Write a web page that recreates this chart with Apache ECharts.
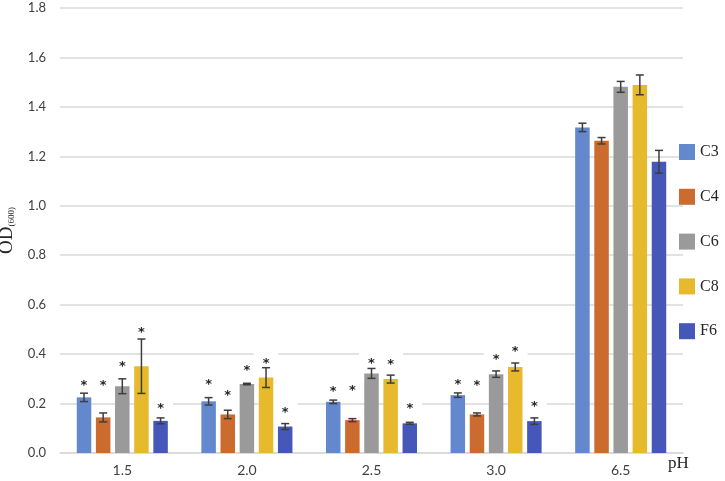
<!DOCTYPE html>
<html>
<head>
<meta charset="utf-8">
<script src="https://cdn.jsdelivr.net/npm/echarts@6/dist/echarts.min.js"></script>
<style>html,body{margin:0;padding:0;background:#fff}#chart{width:725px;height:481px}</style>
</head>
<body>
<div id="chart"></div>
<script>
// ---- data ----
var categories = ['1.5', '2.0', '2.5', '3.0', '6.5'];
var seriesNames = ['C3', 'C4', 'C6', 'C8', 'F6'];
var C3 = [0.225, 0.209, 0.207, 0.234, 1.317];
var C4 = [0.144, 0.156, 0.133, 0.156, 1.263];
var C6 = [0.270, 0.279, 0.322, 0.319, 1.481];
var C8 = [0.351, 0.305, 0.299, 0.348, 1.489];
var F6 = [0.130, 0.107, 0.120, 0.129, 1.178];
var C3err = [0.017, 0.015, 0.007, 0.009, 0.017];
var C4err = [0.018, 0.017, 0.006, 0.006, 0.013];
var C6err = [0.030, 0.003, 0.020, 0.013, 0.022];
var C8err = [0.110, 0.040, 0.016, 0.016, 0.040];
var F6err = [0.012, 0.012, 0.004, 0.013, 0.046];
// heights of significance asterisks (null = none)
var C3star = [0.284, 0.289, 0.262, 0.289, null];
var C4star = [0.284, 0.243, 0.265, 0.284, null];
var C6star = [0.362, 0.346, 0.374, 0.391, null];
var C8star = [0.499, 0.375, 0.370, 0.421, null];
var F6star = [0.192, 0.174, 0.191, 0.198, null];
var yTicks = [0, 0.2, 0.4, 0.6, 0.8, 1.0, 1.2, 1.4, 1.6, 1.8];

// ---- styles ----
var colors = ['#6388CE', '#CB6B2E', '#9A9A9A', '#E7B92C', '#4557B9'];
var BAR_W = 14.5, BAR_GAP = 0.32;
var pitch = BAR_W * (1 + BAR_GAP);

var values = [C3, C4, C6, C8, F6];
var errs = [C3err, C4err, C6err, C8err, F6err];
var stars = [C3star, C4star, C6star, C8star, F6star];

var series = [];
// asterisks (white box behind, hides gridlines; below bars)
values.forEach(function (v, i) {
  var off = (i - 2) * pitch;
  var d = [];
  stars[i].forEach(function (s, k) { if (s != null) d.push([k, s]); });
  series.push({
    type: 'custom', z: 1, silent: true,
    data: d, encode: { x: 0, y: 1 },
    renderItem: function (params, api) {
      var p = api.coord([api.value(0), api.value(1)]);
      return {
        type: 'text', x: p[0] + off, y: p[1] + 3,
        style: {
          text: '*', fill: '#262626', font: 'bold 13px "DejaVu Sans"',
          align: 'center', verticalAlign: 'middle',
          textAlign: 'center', textVerticalAlign: 'middle',
          backgroundColor: '#ffffff', padding: [6, 9, 4, 9]
        }
      };
    }
  });
});
// bars
values.forEach(function (v, i) {
  series.push({
    name: seriesNames[i], type: 'bar', z: 2, data: v,
    barWidth: BAR_W, barGap: (BAR_GAP * 100) + '%',
    itemStyle: { color: colors[i] }
  });
});
// error bars
values.forEach(function (v, i) {
  var off = (i - 2) * pitch;
  var d = v.map(function (val, k) { return [k, val, errs[i][k]]; });
  series.push({
    type: 'custom', z: 3, silent: true,
    data: d, encode: { x: 0, y: 1 },
    renderItem: function (params, api) {
      var c = api.value(0), m = api.value(1), e = api.value(2);
      var x = api.coord([c, m])[0] + off;
      var yt = api.coord([c, m + e])[1];
      var yb = api.coord([c, m - e])[1];
      var st = { stroke: '#3d3d3d', lineWidth: 1.5 };
      return {
        type: 'group',
        children: [
          { type: 'line', shape: { x1: x, y1: yt, x2: x, y2: yb }, style: st },
          { type: 'line', shape: { x1: x - 4, y1: yt, x2: x + 4, y2: yt }, style: st },
          { type: 'line', shape: { x1: x - 4, y1: yb, x2: x + 4, y2: yb }, style: st }
        ]
      };
    }
  });
});

var chart = echarts.init(document.getElementById('chart'), null, { renderer: 'canvas' });
chart.setOption({
  animation: false,
  backgroundColor: '#ffffff',
  grid: { left: 60, right: 42, top: 8, bottom: 28, containLabel: false, outerBoundsMode: 'none' },
  legend: {
    data: seriesNames, orient: 'vertical', left: 679, top: 144, padding: 0, z: 6,
    itemWidth: 16, itemHeight: 16, itemGap: 28.8, icon: 'rect',
    textStyle: { fontFamily: '"Liberation Serif", serif', fontSize: 16, color: '#262626' }
  },
  xAxis: {
    type: 'category', data: categories,
    axisLine: { lineStyle: { color: '#d9d9d9', width: 1.5 } },
    axisTick: { show: false },
    axisLabel: { fontFamily: 'Lato, "Open Sans", sans-serif', fontSize: 14, color: '#404040', margin: 10 }
  },
  yAxis: {
    type: 'value', min: 0, max: 1.8, interval: 0.2,
    name: '{a|OD}{b|(600)}', nameLocation: 'middle', nameRotate: 90, nameGap: 34,
    nameTextStyle: {
      fontFamily: '"Liberation Serif", serif', color: '#262626',
      rich: {
        a: { fontFamily: '"Liberation Serif", serif', fontSize: 19, color: '#262626' },
        b: { fontFamily: '"Liberation Serif", serif', fontSize: 9, color: '#262626', padding: [9, 0, 0, 0] }
      }
    },
    axisLine: { show: false }, axisTick: { show: false },
    splitLine: { lineStyle: { color: '#d9d9d9', width: 1.5 } },
    axisLabel: {
      fontFamily: 'Lato, "Open Sans", sans-serif', fontSize: 13, color: '#404040', margin: 14,
      formatter: function (v) { return v.toFixed(1); }
    }
  },
  graphic: [{
    type: 'rect', left: 684, top: 0, z: 4, silent: true,
    shape: { width: 41, height: 462 }, style: { fill: '#ffffff' }
  }, {
    type: 'text', left: 668, top: 455, z: 5,
    style: { text: 'pH', font: '17px "Liberation Serif", serif', fill: '#262626' }
  }],
  series: series
});
</script>
</body>
</html>
